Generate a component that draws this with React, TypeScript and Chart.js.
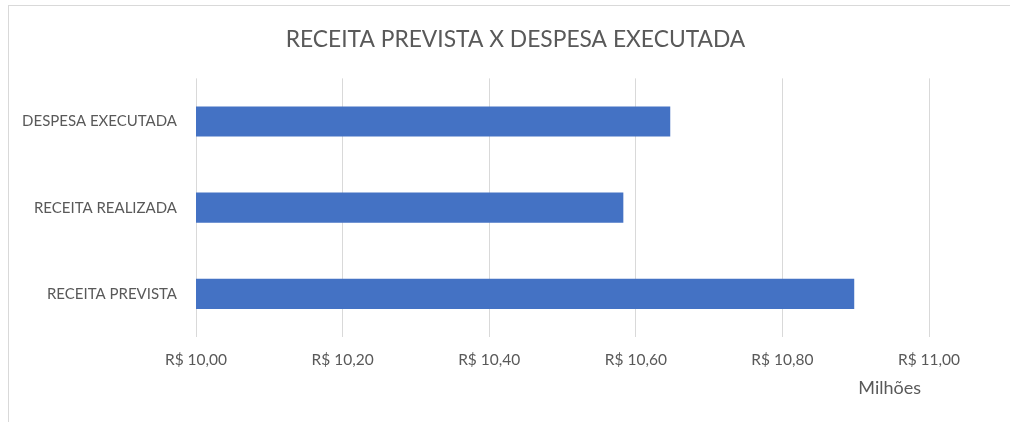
import React, { useEffect, useRef } from "react";
import { Chart, registerables } from "chart.js";

Chart.register(...registerables);

const categories = ["DESPESA EXECUTADA", "RECEITA REALIZADA", "RECEITA PREVISTA"];
const valuesMillions = [10.647, 10.583, 10.898];
const axisMin = 10.0;
const axisMax = 11.0;
const axisStep = 0.2;
const chartTitle = "RECEITA PREVISTA X DESPESA EXECUTADA";
const unitLabel = "Milhões";

const FONT = "Lato, 'Open Sans', sans-serif";
const TEXT = "#595959";
const GRID = "#d9d9d9";
const BAR = "#4472C4";

function formatBRL(v: number): string {
  return "R$ " + v.toFixed(2).replace(".", ",");
}

const unitLabelPlugin = {
  id: "unitLabel",
  afterDraw(chart: any) {
    const xs = chart.scales.x;
    const ctx = chart.ctx;
    ctx.save();
    ctx.font = `18px ${FONT}`;
    ctx.fillStyle = TEXT;
    ctx.textAlign = "right";
    ctx.textBaseline = "middle";
    ctx.fillText(unitLabel, xs.right - 8, xs.bottom - 34);
    ctx.restore();
  },
};

export default function App() {
  const ref = useRef<HTMLCanvasElement | null>(null);

  useEffect(() => {
    if (!ref.current) return;
    const chart = new Chart(ref.current, {
      type: "bar",
      data: {
        labels: categories,
        datasets: [
          {
            data: valuesMillions,
            backgroundColor: BAR,
            borderWidth: 0,
            barPercentage: 1,
            categoryPercentage: 0.35,
            yAxisID: "y",
            xAxisID: "x",
          },
        ],
      },
      plugins: [unitLabelPlugin],
      options: {
        indexAxis: "y",
        animation: false,
        responsive: false,
        maintainAspectRatio: false,
        layout: { padding: { left: 16, right: 0, top: 0, bottom: 0 } },
        plugins: {
          legend: { display: false },
          tooltip: { enabled: false },
          title: {
            display: true,
            text: chartTitle,
            color: TEXT,
            font: { family: FONT, size: 22.8, weight: "normal", lineHeight: 1.2 },
            padding: { top: 26, bottom: 25 },
          },
        },
        scales: {
          x: {
            type: "linear",
            min: axisMin,
            max: axisMax,
            ticks: {
              stepSize: axisStep,
              color: TEXT,
              font: { family: FONT, size: 15.5 },
              padding: 14,
              callback: (v: any) => formatBRL(Number(v)),
            },
            grid: { color: GRID, lineWidth: 1, drawTicks: false },
            border: { display: false },
            afterFit: (scale: any) => {
              scale.height = 85;
            },
          },
          y: {
            ticks: {
              color: TEXT,
              font: { family: FONT, size: 15 },
              padding: 19,
            },
            grid: { display: false, drawTicks: false },
            border: { display: false },
            afterFit: (scale: any) => {
              scale.width = 180;
            },
          },
          rightSpace: {
            type: "linear",
            position: "right",
            display: true,
            ticks: { display: false },
            grid: { display: false, drawTicks: false },
            border: { display: false },
            afterFit: (scale: any) => {
              scale.width = 86;
            },
          },
        },
      },
    });
    return () => chart.destroy();
  }, []);

  return (
    <div style={{ position: "fixed", left: 0, top: 0, width: 1015, height: 422, background: "#fff" }}>
      <div
        style={{
          position: "absolute",
          left: 8,
          top: 5,
          right: 5,
          bottom: 0,
          borderLeft: `1px solid ${GRID}`,
          borderTop: `1px solid ${GRID}`,
        }}
      />
      <canvas ref={ref} width={1015} height={422} style={{ position: "absolute", left: 0, top: 0 }} />
    </div>
  );
}
